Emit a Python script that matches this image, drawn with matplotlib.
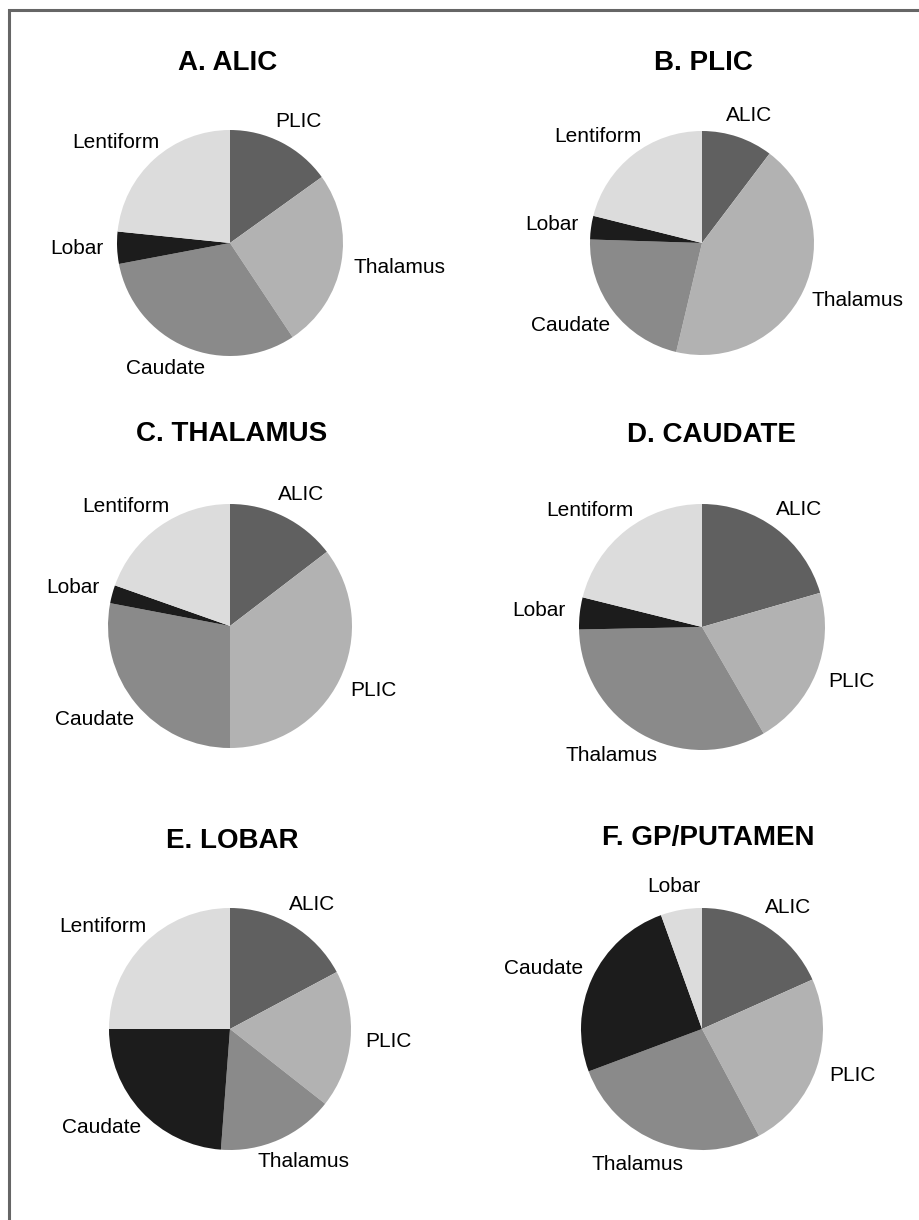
# Six pie charts: distribution by region (A-F)
import numpy as np
import matplotlib.pyplot as plt
from matplotlib.patches import Rectangle

plt.rcParams['font.family'] = ['Liberation Sans', 'DejaVu Sans']

titles = ["A. ALIC", "B. PLIC", "C. THALAMUS", "D. CAUDATE", "E. LOBAR", "F. GP/PUTAMEN"]

labels_A = ["PLIC", "Thalamus", "Caudate", "Lobar", "Lentiform"]
values_A = [15.1, 25.6, 31.4, 4.6, 23.4]

labels_B = ["ALIC", "Thalamus", "Caudate", "Lobar", "Lentiform"]
values_B = [10.3, 43.4, 21.8, 3.4, 21.1]

labels_C = ["ALIC", "PLIC", "Caudate", "Lobar", "Lentiform"]
values_C = [14.6, 35.4, 28.0, 2.4, 19.6]

labels_D = ["ALIC", "PLIC", "Thalamus", "Lobar", "Lentiform"]
values_D = [20.5, 21.1, 33.0, 4.2, 21.1]

labels_E = ["ALIC", "PLIC", "Thalamus", "Caudate", "Lentiform"]
values_E = [17.2, 18.4, 15.6, 23.8, 25.0]

labels_F = ["ALIC", "PLIC", "Thalamus", "Caudate", "Lobar"]
values_F = [18.3, 23.9, 27.1, 25.2, 5.5]

all_labels = [labels_A, labels_B, labels_C, labels_D, labels_E, labels_F]
all_values = [values_A, values_B, values_C, values_D, values_E, values_F]

colors = ["#606060", "#b2b2b2", "#8a8a8a", "#1c1c1c", "#dcdcdc"]

W, H = 920, 1220
fig = plt.figure(figsize=(W / 100, H / 100), dpi=100)

# pie centre x, centre y, radius, title x, title y (pixels)
layout = [
    (230, 243, 113, 228, 63),
    (702, 243, 112, 703, 63),
    (230, 626, 122, 232, 434),
    (702, 627, 123, 711, 435),
    (230, 1029, 121, 232, 841),
    (702, 1029, 121, 708, 838),
]

texts = []
for (cx, cy, r, tx, ty), title, labs, vals in zip(layout, titles, all_labels, all_values):
    ax = fig.add_axes([(cx - r) / W, 1 - (cy + r) / H, 2 * r / W, 2 * r / H])
    wedges, _ = ax.pie(vals, colors=colors, startangle=90, counterclock=False,
                       radius=1, wedgeprops=dict(linewidth=0))
    ax.set_xlim(-1, 1)
    ax.set_ylim(-1, 1)
    ax.axis("off")
    fig.text(tx / W, 1 - ty / H, title, ha="center", va="center",
             fontsize=20, fontweight="bold")
    for w, lab in zip(wedges, labs):
        mid = np.deg2rad((w.theta1 + w.theta2) / 2)
        t = ax.text(1.12 * np.cos(mid), 1.12 * np.sin(mid), lab,
                    ha="center", va="center", fontsize=15)
        texts.append((ax, t, mid))

# push each label outward so its box sits just outside the anchor point
renderer = fig.canvas.get_renderer()
for ax, t, mid in texts:
    bb = t.get_window_extent(renderer)
    p = ax.transData.transform(t.get_position())
    p = p + np.array([bb.width / 2 * np.cos(mid), bb.height / 2 * np.sin(mid)])
    t.set_position(ax.transData.inverted().transform(p))

# grey frame (only top and left edges fall inside the image)
fig.patches.append(Rectangle((9.5 / W, -0.1), 1.2, 1 - 9.5 / H + 0.1,
                             transform=fig.transFigure, fill=False,
                             edgecolor="#666666", linewidth=2.2))

fig.savefig("out.png", dpi=100)
